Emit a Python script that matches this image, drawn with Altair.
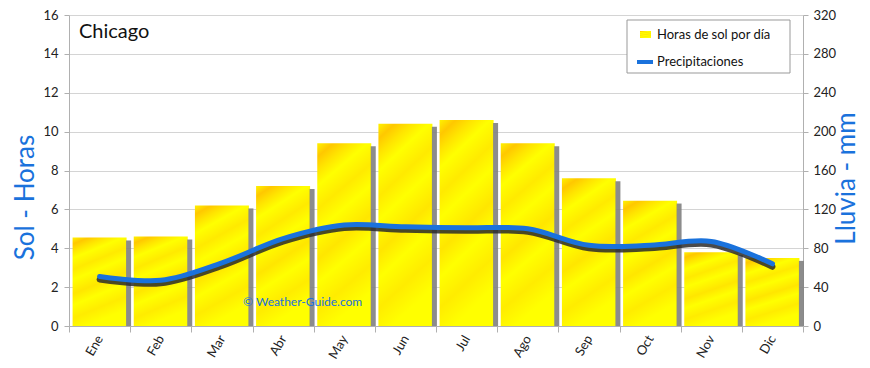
import altair as alt
import pandas as pd

months = ["Ene", "Feb", "Mar", "Abr", "May", "Jun", "Jul", "Ago", "Sep", "Oct", "Nov", "Dic"]
sun_hours = [4.55, 4.6, 6.2, 7.2, 9.4, 10.4, 10.6, 9.4, 7.6, 6.45, 3.8, 3.5]
rain_mm = [51, 47, 65, 90, 104, 102, 101, 100, 83, 83, 87, 64]

sun_ticks = list(range(0, 17, 2))
rain_ticks = list(range(0, 321, 40))

city = "Chicago"
legend_sun = "Horas de sol por día"
legend_rain = "Precipitaciones"
watermark = "© Weather-Guide.com"

df = pd.DataFrame({"month": months, "sun": sun_hours, "rain": rain_mm})
one = pd.DataFrame({"k": [0]})

W, H = 734, 311
FONT = "Lato"
BLUE = "#1a72dc"

xenc = alt.X("month:N", sort=months,
             scale=alt.Scale(paddingInner=0, paddingOuter=0),
             axis=alt.Axis(title=None, labelAngle=-60, tickBand="extent", tickSize=6,
                           labelFontSize=13, labelColor="#222", labelFont=FONT,
                           domainColor="#b0b0b0", tickColor="#b0b0b0", labelPadding=4))

left_axis = alt.Axis(values=sun_ticks, title="Sol - Horas", titleColor=BLUE,
                     titleFontSize=26, titleFont=FONT, titleFontWeight="normal",
                     titleAngle=-90, titleX=-44, titleY=182, titleAlign="center",
                     titleBaseline="middle", grid=True, gridColor="#d4d4d4",
                     tickSize=5, labelPadding=6, labelFontSize=13, labelColor="#222",
                     labelFont=FONT, domainColor="#b0b0b0", tickColor="#b0b0b0")
sun_scale = alt.Scale(domain=[0, 16], nice=False)

bar_grad = alt.Gradient(
    gradient="linear", x1=0, y1=0, x2=0.25, y2=1,
    stops=[
        alt.GradientStop(offset=0.0, color="#fff200"),
        alt.GradientStop(offset=0.07, color="#ffc800"),
        alt.GradientStop(offset=0.14, color="#ffe400"),
        alt.GradientStop(offset=0.22, color="#ffff00"),
        alt.GradientStop(offset=0.34, color="#ffea00"),
        alt.GradientStop(offset=0.45, color="#ffff00"),
        alt.GradientStop(offset=0.6, color="#ffe600"),
        alt.GradientStop(offset=0.72, color="#ffff00"),
        alt.GradientStop(offset=0.86, color="#ffec00"),
        alt.GradientStop(offset=1.0, color="#ffff00"),
    ])

base = alt.Chart(df)

shadow = base.transform_calculate(stop="datum.sun - 0.15").mark_bar(
    width=5, xOffset=29, color="#808080", opacity=0.9
).encode(x=xenc, y=alt.Y("stop:Q", scale=sun_scale, axis=left_axis),
         y2=alt.datum(0))

bars = base.mark_bar(width=54, xOffset=0, fill=bar_grad).encode(
    x=xenc, y=alt.Y("sun:Q", scale=sun_scale, axis=left_axis))

left = alt.layer(bars, shadow)

right_axis = alt.Axis(values=rain_ticks, orient="right", title="Lluvia - mm",
                      titleColor=BLUE, titleFontSize=26, titleFont=FONT,
                      titleFontWeight="normal", titleAngle=-90, titleX=43, titleY=163,
                      titleAlign="center", titleBaseline="middle", grid=False,
                      tickSize=5, labelPadding=5, labelFontSize=13, labelColor="#222",
                      labelFont=FONT, domainColor="#b0b0b0", tickColor="#b0b0b0")
rain_scale = alt.Scale(domain=[0, 320], nice=False)

line_shadow = base.mark_line(interpolate="catmull-rom", strokeWidth=6, color="#2a2a2a",
                             opacity=0.85, yOffset=3, strokeCap="round").encode(
    x=xenc, y=alt.Y("rain:Q", scale=rain_scale, axis=right_axis))
line = base.mark_line(interpolate="catmull-rom", strokeWidth=5, color=BLUE,
                      strokeCap="round").encode(
    x=xenc, y=alt.Y("rain:Q", scale=rain_scale, axis=right_axis))

right = alt.layer(line_shadow, line)

title_txt = alt.Chart(one).mark_text(text=city, fontSize=20, font=FONT, align="left",
                                     baseline="middle", color="#111").encode(
    x=alt.value(10), y=alt.value(17))

wm = alt.Chart(one).mark_text(text=watermark, fontSize=12, font=FONT, align="left",
                              baseline="middle", color=BLUE).encode(
    x=alt.value(174), y=alt.value(287))

leg_box = alt.Chart(one).mark_rect(fill="white", stroke="#999", strokeWidth=1).encode(
    x=alt.value(558), x2=alt.value(721), y=alt.value(5), y2=alt.value(58))
leg_sw = alt.Chart(one).mark_rect(fill=bar_grad).encode(
    x=alt.value(571), x2=alt.value(582), y=alt.value(16), y2=alt.value(23))
leg_t1 = alt.Chart(one).mark_text(text=legend_sun, fontSize=13, font=FONT, align="left",
                                  baseline="middle", color="#111").encode(
    x=alt.value(588), y=alt.value(20))
leg_ln = alt.Chart(one).mark_rule(color=BLUE, strokeWidth=4).encode(
    x=alt.value(568), x2=alt.value(584), y=alt.value(47))
leg_t2 = alt.Chart(one).mark_text(text=legend_rain, fontSize=13, font=FONT, align="left",
                                  baseline="middle", color="#111").encode(
    x=alt.value(588), y=alt.value(47))

chart = alt.layer(left, right, title_txt, wm, leg_box, leg_sw, leg_t1, leg_ln, leg_t2).resolve_scale(
    y="independent"
).properties(
    width=W, height=H,
    autosize=alt.AutoSizeParams(type="none"),
    padding={"left": 61, "top": 7, "right": 59, "bottom": 36},
    background="white",
).configure_view(stroke=None)

chart.save("out.html", embed_options={"renderer": "svg", "actions": False})
